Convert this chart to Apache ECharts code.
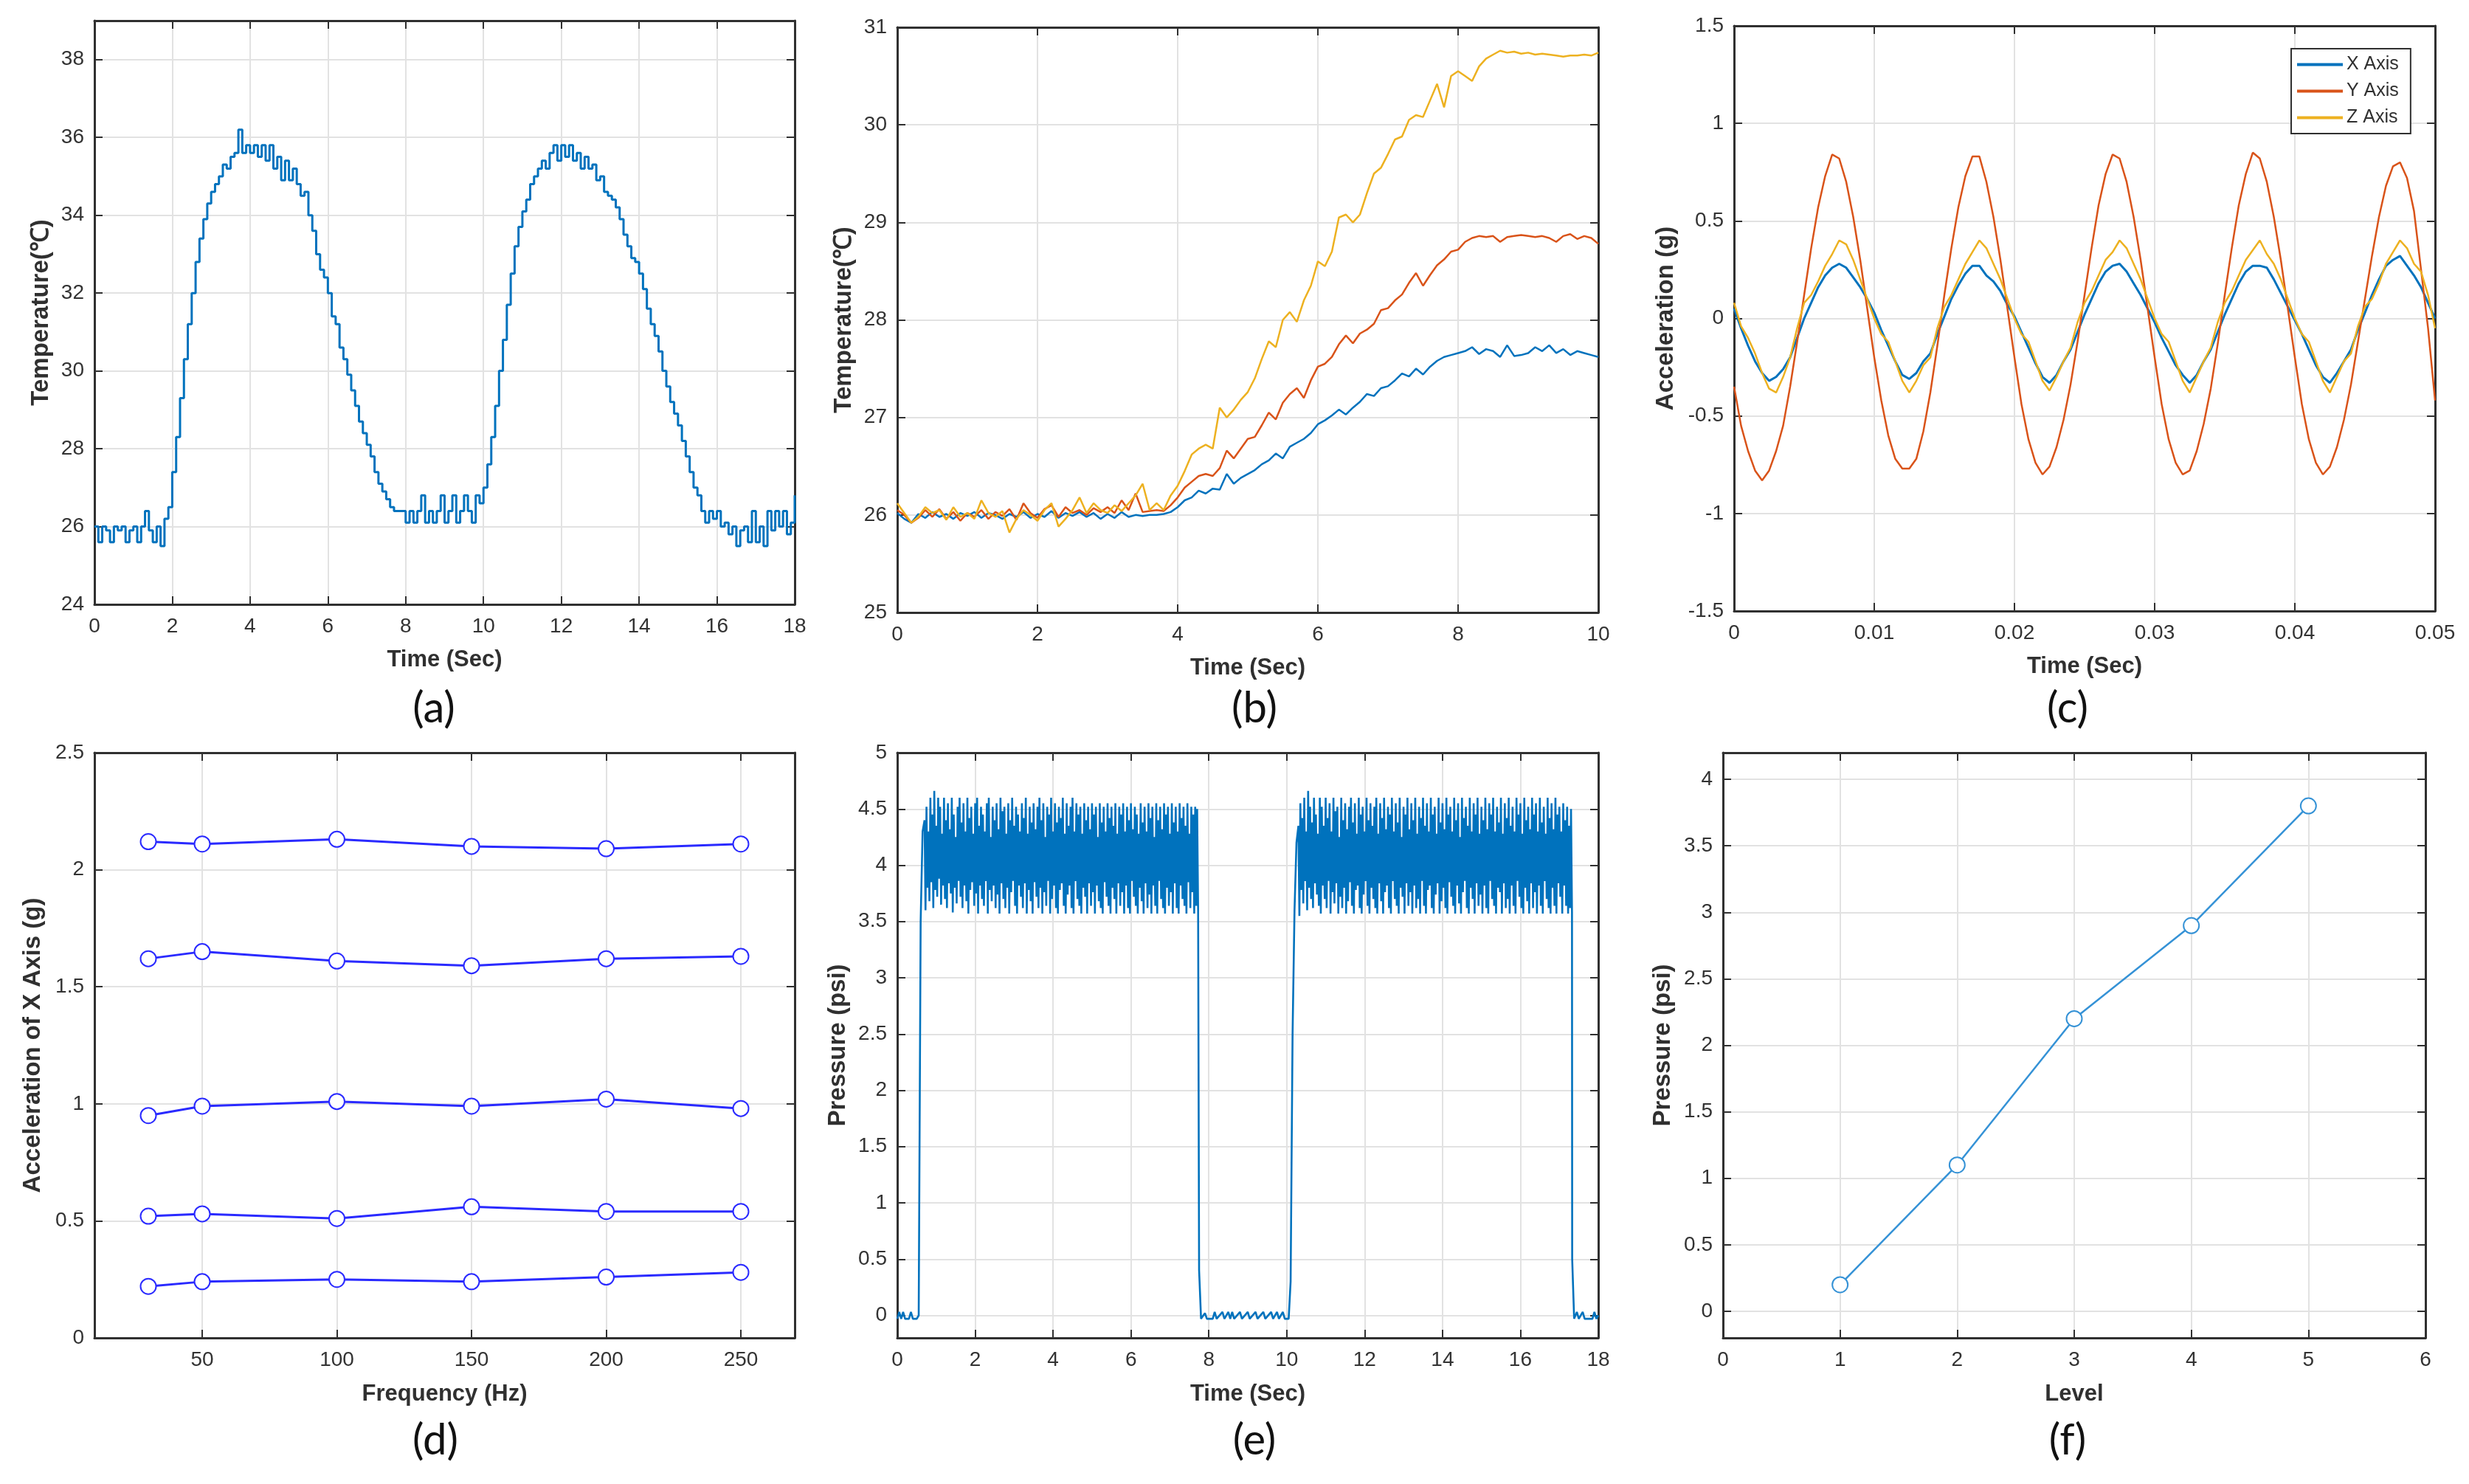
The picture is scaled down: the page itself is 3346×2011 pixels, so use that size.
<!DOCTYPE html>
<html>
<head>
<meta charset="utf-8">
<script src="https://cdn.jsdelivr.net/npm/echarts@6/dist/echarts.min.js"></script>
<style>
  html, body { margin: 0; background: #fff; }
  #chart { width: 3346px; height: 2011px; }
</style>
</head>
<body>
<div id="chart"></div>
<script>
// ---------- (a) temperature, one value every 0.1 s from 0 to 18 s ----------
const tempStep = 0.1;
const tempA = [
  26.0, 25.6, 26.0, 25.9, 25.6, 26.0, 25.9, 26.0, 25.6, 25.9,
  26.0, 25.6, 26.0, 26.4, 25.9, 25.6, 26.0, 25.5, 26.2, 26.5,
  27.4, 28.3, 29.3, 30.3, 31.2, 32.0, 32.8, 33.4, 33.9, 34.3,
  34.6, 34.8, 35.0, 35.3, 35.2, 35.5, 35.6, 36.2, 35.6, 35.8,
  35.6, 35.8, 35.5, 35.8, 35.4, 35.8, 35.2, 35.5, 34.9, 35.4,
  34.9, 35.2, 34.8, 34.5, 34.6, 34.0, 33.6, 33.0, 32.6, 32.4,
  32.0, 31.4, 31.2, 30.6, 30.3, 29.9, 29.5, 29.1, 28.7, 28.4,
  28.1, 27.8, 27.4, 27.1, 26.9, 26.7, 26.5, 26.4, 26.4, 26.4,
  26.1, 26.4, 26.1, 26.4, 26.8, 26.1, 26.4, 26.1, 26.4, 26.8,
  26.1, 26.4, 26.8, 26.1, 26.4, 26.8, 26.4, 26.1, 26.8, 26.6,
  27.0, 27.6, 28.3, 29.1, 30.0, 30.8, 31.7, 32.5, 33.2, 33.7,
  34.1, 34.4, 34.8, 35.0, 35.2, 35.4, 35.2, 35.6, 35.8, 35.4,
  35.8, 35.5, 35.8, 35.4, 35.6, 35.2, 35.5, 35.2, 35.3, 34.9,
  35.0, 34.6, 34.5, 34.4, 34.2, 33.9, 33.5, 33.2, 32.9, 32.8,
  32.5, 32.1, 31.6, 31.2, 30.9, 30.5, 30.0, 29.6, 29.2, 28.9,
  28.6, 28.2, 27.8, 27.4, 27.0, 26.8, 26.4, 26.1, 26.4, 26.2,
  26.4, 26.0, 26.1, 25.8, 26.0, 25.5, 25.9, 26.0, 25.6, 26.4,
  25.6, 26.0, 25.5, 26.4, 25.9, 26.4, 26.0, 26.4, 25.8, 26.1,
  26.8
];

// ---------- (b) three temperature sensors, every 0.1 s from 0 to 10 s ----------
const heatStep = 0.1;
const heatBlue = [
  26.02, 25.96, 25.92, 26.01, 25.97, 26.03, 25.98, 26.01, 25.96, 26.02,
  25.99, 26.03, 25.97, 26.02, 26.00, 25.96, 26.01, 25.98, 26.03, 25.97,
  26.01, 25.98, 26.04, 25.97, 26.02, 25.99, 26.03, 25.98, 26.02, 25.96,
  26.01, 25.97, 26.03, 25.98, 26.00, 25.99, 26.00, 26.00, 26.01, 26.03,
  26.08, 26.15, 26.18, 26.25, 26.22, 26.27, 26.26, 26.42, 26.32, 26.38,
  26.42, 26.46, 26.52, 26.56, 26.63, 26.58, 26.70, 26.74, 26.78, 26.84,
  26.93, 26.97, 27.02, 27.08, 27.03, 27.10, 27.16, 27.24, 27.22, 27.30,
  27.32, 27.38, 27.45, 27.42, 27.50, 27.44, 27.52, 27.58, 27.62, 27.64,
  27.66, 27.68, 27.72, 27.65, 27.70, 27.68, 27.62, 27.74, 27.63, 27.64,
  27.66, 27.72, 27.68, 27.74, 27.66, 27.70, 27.64, 27.68, 27.66, 27.64,
  27.62
];
const heatRed = [
  26.05, 26.00, 25.92, 25.97, 26.05, 25.98, 26.06, 25.96, 26.03, 25.94,
  26.02, 25.98, 26.05, 25.96, 26.03, 25.99, 26.06, 25.95, 26.12, 26.02,
  25.97, 26.06, 26.10, 25.98, 26.08, 26.02, 26.05, 26.00, 26.07, 26.03,
  26.08, 26.02, 26.15, 26.05, 26.22, 26.03, 26.04, 26.05, 26.04, 26.10,
  26.18, 26.28, 26.34, 26.40, 26.42, 26.40, 26.48, 26.66, 26.58, 26.68,
  26.78, 26.80, 26.92, 27.05, 26.98, 27.15, 27.24, 27.30, 27.20, 27.38,
  27.52, 27.55, 27.62, 27.75, 27.84, 27.76, 27.86, 27.90, 27.96, 28.10,
  28.12, 28.20, 28.26, 28.38, 28.48, 28.35, 28.46, 28.56, 28.62, 28.70,
  28.72, 28.80, 28.84, 28.86, 28.85, 28.86, 28.80, 28.85, 28.86, 28.87,
  28.86, 28.85, 28.86, 28.84, 28.80, 28.86, 28.88, 28.83, 28.86, 28.84,
  28.78
];
const heatYellow = [
  26.12, 26.02, 25.92, 25.98, 26.08, 26.02, 26.05, 25.95, 26.08, 25.98,
  26.02, 25.96, 26.15, 26.02, 25.98, 26.04, 25.82, 25.96, 26.05, 26.00,
  25.94, 26.05, 26.12, 25.88, 25.96, 26.05, 26.18, 26.02, 26.12, 26.05,
  26.02, 26.10, 26.04, 26.12, 26.20, 26.32, 26.05, 26.12, 26.05, 26.20,
  26.30, 26.45, 26.62, 26.68, 26.72, 26.68, 27.10, 27.00, 27.08, 27.18,
  27.26, 27.40, 27.60, 27.78, 27.72, 28.00, 28.08, 27.98, 28.20, 28.35,
  28.60, 28.55, 28.70, 29.05, 29.08, 29.00, 29.08, 29.30, 29.50, 29.56,
  29.70, 29.85, 29.88, 30.05, 30.10, 30.08, 30.25, 30.42, 30.18, 30.50,
  30.55, 30.50, 30.45, 30.60, 30.68, 30.72, 30.76, 30.74, 30.75, 30.73,
  30.74, 30.72, 30.73, 30.72, 30.71, 30.70, 30.71, 30.71, 30.72, 30.71,
  30.74
];

// ---------- (c) acceleration, every 0.0005 s from 0 to 0.05 s ----------
const accStep = 0.0005;
const accNames = ["X Axis", "Y Axis", "Z Axis"];
const accX = [
  0.05, -0.05, -0.14, -0.22, -0.28, -0.32, -0.30, -0.26, -0.20, -0.10,
  0.00, 0.08, 0.16, 0.22, 0.26, 0.28, 0.26, 0.21, 0.16, 0.10,
  0.03, -0.06, -0.14, -0.22, -0.29, -0.31, -0.28, -0.22, -0.18, -0.08,
  0.01, 0.10, 0.17, 0.23, 0.27, 0.27, 0.22, 0.19, 0.14, 0.07,
  0.01, -0.07, -0.15, -0.23, -0.30, -0.33, -0.29, -0.22, -0.16, -0.07,
  0.02, 0.10, 0.18, 0.24, 0.27, 0.28, 0.24, 0.18, 0.12, 0.05,
  -0.02, -0.10, -0.17, -0.24, -0.29, -0.33, -0.29, -0.22, -0.16, -0.07,
  0.02, 0.10, 0.18, 0.24, 0.27, 0.27, 0.26, 0.20, 0.13, 0.06,
  -0.01, -0.08, -0.16, -0.24, -0.30, -0.33, -0.28, -0.22, -0.16, -0.06,
  0.03, 0.12, 0.20, 0.27, 0.30, 0.32, 0.27, 0.22, 0.16, 0.08,
  0.00
];
const accY = [
  -0.35, -0.55, -0.68, -0.78, -0.83, -0.78, -0.68, -0.55, -0.35, -0.12,
  0.12, 0.36, 0.57, 0.73, 0.84, 0.82, 0.70, 0.52, 0.30, 0.05,
  -0.20, -0.42, -0.60, -0.72, -0.77, -0.77, -0.72, -0.58, -0.38, -0.14,
  0.12, 0.36, 0.57, 0.73, 0.83, 0.83, 0.70, 0.52, 0.30, 0.05,
  -0.20, -0.44, -0.62, -0.74, -0.80, -0.76, -0.66, -0.52, -0.34, -0.12,
  0.12, 0.36, 0.58, 0.74, 0.84, 0.82, 0.70, 0.52, 0.30, 0.05,
  -0.20, -0.44, -0.62, -0.74, -0.80, -0.78, -0.68, -0.54, -0.36, -0.13,
  0.12, 0.36, 0.58, 0.74, 0.85, 0.82, 0.70, 0.52, 0.30, 0.05,
  -0.20, -0.44, -0.62, -0.74, -0.80, -0.76, -0.66, -0.52, -0.34, -0.12,
  0.10, 0.32, 0.52, 0.68, 0.78, 0.80, 0.72, 0.55, 0.25, -0.05,
  -0.42
];
const accZ = [
  0.08, -0.04, -0.10, -0.18, -0.28, -0.36, -0.38, -0.30, -0.20, -0.05,
  0.08, 0.12, 0.19, 0.27, 0.33, 0.40, 0.38, 0.30, 0.20, 0.10,
  0.00, -0.08, -0.12, -0.22, -0.32, -0.38, -0.32, -0.24, -0.20, -0.05,
  0.06, 0.12, 0.20, 0.28, 0.34, 0.40, 0.36, 0.28, 0.20, 0.10,
  0.00, -0.08, -0.12, -0.22, -0.32, -0.37, -0.30, -0.22, -0.15, -0.02,
  0.08, 0.14, 0.22, 0.30, 0.34, 0.40, 0.36, 0.28, 0.20, 0.10,
  0.00, -0.08, -0.12, -0.22, -0.32, -0.38, -0.30, -0.22, -0.15, -0.02,
  0.08, 0.14, 0.22, 0.30, 0.35, 0.40, 0.33, 0.28, 0.20, 0.10,
  0.00, -0.08, -0.12, -0.22, -0.32, -0.38, -0.30, -0.22, -0.18, -0.04,
  0.06, 0.10, 0.18, 0.28, 0.34, 0.40, 0.36, 0.28, 0.24, 0.12,
  -0.05
];

// ---------- (d) acceleration of X axis vs frequency, five excitation levels ----------
const freqHz = [30, 50, 100, 150, 200, 250];
const accLevels = [
  [2.12, 2.11, 2.13, 2.10, 2.09, 2.11],
  [1.62, 1.65, 1.61, 1.59, 1.62, 1.63],
  [0.95, 0.99, 1.01, 0.99, 1.02, 0.98],
  [0.52, 0.53, 0.51, 0.56, 0.54, 0.54],
  [0.22, 0.24, 0.25, 0.24, 0.26, 0.28]
];

// ---------- (e) pressure: off segments as [t, psi], on plateaus as peak/trough every 0.05 s ----------
const pressStep = 0.05;
const pressOffStart = [[0, -0.03], [0.05, 0.03], [0.1, -0.03], [0.15, 0.03], [0.2, -0.03], [0.3, -0.03],
  [0.35, 0.03], [0.4, -0.03], [0.5, -0.03], [0.55, 0.0], [0.6, 3.5], [0.65, 4.3]];
const pressOn1Start = 0.7;
const pressOn1High = [
  4.40, 4.52, 4.30, 4.60, 4.45, 4.66, 4.35, 4.60, 4.52, 4.28,
  4.60, 4.40, 4.55, 4.32, 4.60, 4.45, 4.25, 4.52, 4.60, 4.38,
  4.55, 4.30, 4.60, 4.42, 4.52, 4.28, 4.55, 4.60, 4.35, 4.52,
  4.45, 4.30, 4.55, 4.60, 4.25, 4.52, 4.40, 4.55, 4.32, 4.60,
  4.48, 4.52, 4.28, 4.55, 4.40, 4.60, 4.35, 4.52, 4.45, 4.30,
  4.55, 4.42, 4.60, 4.28, 4.52, 4.38, 4.55, 4.32, 4.52, 4.60,
  4.40, 4.55, 4.25, 4.52, 4.45, 4.60, 4.30, 4.55, 4.38, 4.52,
  4.42, 4.60, 4.28, 4.55, 4.35, 4.52, 4.60, 4.30, 4.55, 4.45,
  4.52, 4.28, 4.55, 4.40, 4.52, 4.32, 4.55, 4.45, 4.52, 4.25,
  4.55, 4.38, 4.52, 4.30, 4.55, 4.42, 4.52, 4.35, 4.55, 4.28,
  4.52, 4.45, 4.55, 4.30, 4.52, 4.40, 4.55, 4.32, 4.52, 4.45,
  4.28, 4.55, 4.38, 4.52, 4.30, 4.55, 4.42, 4.52, 4.25, 4.55,
  4.40, 4.52, 4.32, 4.55, 4.45, 4.52, 4.28, 4.55, 4.38, 4.52,
  4.30, 4.55, 4.42, 4.52, 4.35, 4.55, 4.28, 4.52, 4.45, 4.52,
  4.50
];
const pressOn1Low = [
  3.60, 3.80, 3.68, 3.85, 3.62, 3.78, 3.72, 3.88, 3.65, 3.82,
  3.70, 3.62, 3.84, 3.75, 3.58, 3.80, 3.66, 3.86, 3.72, 3.62,
  3.82, 3.68, 3.57, 3.78, 3.85, 3.64, 3.75, 3.57, 3.82, 3.70,
  3.64, 3.86, 3.57, 3.78, 3.68, 3.82, 3.62, 3.74, 3.57, 3.84,
  3.70, 3.62, 3.80, 3.57, 3.76, 3.86, 3.64, 3.57, 3.82, 3.72,
  3.62, 3.84, 3.57, 3.78, 3.68, 3.57, 3.85, 3.72, 3.62, 3.80,
  3.57, 3.76, 3.64, 3.86, 3.57, 3.70, 3.82, 3.62, 3.57, 3.78,
  3.84, 3.64, 3.57, 3.74, 3.82, 3.62, 3.57, 3.86, 3.70, 3.64,
  3.57, 3.80, 3.72, 3.57, 3.84, 3.64, 3.76, 3.57, 3.82, 3.68,
  3.62, 3.57, 3.85, 3.72, 3.64, 3.57, 3.80, 3.70, 3.57, 3.84,
  3.64, 3.76, 3.57, 3.82, 3.62, 3.57, 3.86, 3.72, 3.64, 3.57,
  3.80, 3.68, 3.57, 3.84, 3.62, 3.74, 3.57, 3.82, 3.64, 3.57,
  3.86, 3.70, 3.62, 3.57, 3.80, 3.64, 3.76, 3.57, 3.84, 3.62,
  3.57, 3.82, 3.70, 3.64, 3.57, 3.85, 3.62, 3.76, 3.57, 3.64,
  3.60
];
const pressOffMiddle = [[7.75, 0.4], [7.8, -0.03], [7.9, 0.02], [7.95, -0.03], [8.1, -0.03], [8.15, 0.03],
  [8.2, -0.03], [8.35, 0.03], [8.4, -0.03], [8.5, 0.03], [8.55, -0.03], [8.6, 0.03], [8.65, -0.03],
  [8.8, 0.03], [8.85, -0.03], [9.0, 0.03], [9.05, -0.03], [9.2, 0.03], [9.25, -0.03], [9.4, 0.03],
  [9.45, -0.03], [9.6, 0.03], [9.65, -0.03], [9.75, 0.03], [9.8, -0.03], [9.9, 0.03], [9.95, -0.03],
  [10.05, -0.03], [10.1, 0.3], [10.15, 2.5], [10.2, 3.6], [10.25, 4.2]];
const pressOn2Start = 10.3;
const pressOn2High = [
  4.35, 4.55, 4.42, 4.60, 4.30, 4.66, 4.52, 4.38, 4.60, 4.45,
  4.28, 4.60, 4.52, 4.35, 4.60, 4.42, 4.55, 4.30, 4.60, 4.48,
  4.52, 4.25, 4.60, 4.40, 4.55, 4.32, 4.52, 4.60, 4.38, 4.55,
  4.28, 4.60, 4.45, 4.52, 4.30, 4.60, 4.40, 4.55, 4.35, 4.52,
  4.60, 4.28, 4.55, 4.42, 4.60, 4.32, 4.52, 4.45, 4.60, 4.30,
  4.55, 4.38, 4.60, 4.25, 4.52, 4.45, 4.60, 4.32, 4.55, 4.40,
  4.60, 4.28, 4.52, 4.42, 4.60, 4.35, 4.55, 4.30, 4.60, 4.45,
  4.52, 4.28, 4.60, 4.38, 4.55, 4.32, 4.60, 4.45, 4.52, 4.30,
  4.60, 4.40, 4.55, 4.25, 4.60, 4.42, 4.52, 4.35, 4.60, 4.30,
  4.55, 4.45, 4.60, 4.28, 4.52, 4.40, 4.60, 4.32, 4.55, 4.45,
  4.60, 4.30, 4.52, 4.38, 4.60, 4.28, 4.55, 4.42, 4.60, 4.35,
  4.52, 4.30, 4.60, 4.45, 4.55, 4.28, 4.60, 4.40, 4.52, 4.32,
  4.60, 4.45, 4.55, 4.30, 4.60, 4.38, 4.52, 4.28, 4.60, 4.42,
  4.55, 4.32, 4.60, 4.45, 4.52, 4.30, 4.55, 4.40, 4.52, 4.35,
  4.50
];
const pressOn2Low = [
  3.55, 3.78, 3.66, 3.86, 3.60, 3.80, 3.70, 3.62, 3.84, 3.74,
  3.64, 3.57, 3.82, 3.70, 3.62, 3.86, 3.57, 3.76, 3.66, 3.84,
  3.57, 3.72, 3.62, 3.80, 3.57, 3.68, 3.85, 3.64, 3.57, 3.78,
  3.82, 3.62, 3.57, 3.74, 3.86, 3.64, 3.57, 3.80, 3.70, 3.62,
  3.57, 3.84, 3.68, 3.57, 3.76, 3.82, 3.62, 3.57, 3.86, 3.70,
  3.64, 3.57, 3.80, 3.72, 3.57, 3.84, 3.64, 3.76, 3.57, 3.82,
  3.62, 3.70, 3.57, 3.86, 3.64, 3.57, 3.78, 3.82, 3.62, 3.57,
  3.74, 3.84, 3.57, 3.68, 3.80, 3.62, 3.57, 3.85, 3.72, 3.64,
  3.57, 3.82, 3.66, 3.57, 3.76, 3.86, 3.62, 3.57, 3.80, 3.70,
  3.57, 3.84, 3.64, 3.74, 3.57, 3.82, 3.62, 3.57, 3.86, 3.70,
  3.64, 3.57, 3.80, 3.76, 3.57, 3.84, 3.62, 3.70, 3.57, 3.82,
  3.64, 3.57, 3.86, 3.72, 3.62, 3.57, 3.80, 3.68, 3.57, 3.84,
  3.62, 3.76, 3.57, 3.82, 3.64, 3.57, 3.86, 3.70, 3.62, 3.57,
  3.80, 3.64, 3.57, 3.84, 3.72, 3.57, 3.82, 3.64, 3.57, 3.62,
  3.58
];
const pressOffEnd = [[17.33, 0.5], [17.38, -0.03], [17.45, 0.03], [17.5, -0.03], [17.6, 0.03],
  [17.65, -0.03], [17.85, -0.03], [17.9, 0.03], [17.95, -0.03], [18, 0.0]];

// ---------- (f) pressure vs level ----------
const levels = [1, 2, 3, 4, 5];
const levelPsi = [0.2, 1.1, 2.2, 2.9, 3.8];

// ---------- tick labels ----------
const ticks0to18 = [0, 2, 4, 6, 8, 10, 12, 14, 16, 18];
const ticksTempA = [24, 26, 28, 30, 32, 34, 36, 38];
const ticks0to10 = [0, 2, 4, 6, 8, 10];
const ticksTempB = [25, 26, 27, 28, 29, 30, 31];
const ticksTimeC = [0, 0.01, 0.02, 0.03, 0.04, 0.05];
const ticksAccC = [-1.5, -1, -0.5, 0, 0.5, 1, 1.5];
const ticksFreq = [50, 100, 150, 200, 250];
const ticksAccD = [0, 0.5, 1, 1.5, 2, 2.5];
const ticksPsiE = [0, 0.5, 1, 1.5, 2, 2.5, 3, 3.5, 4, 4.5, 5];
const ticksLevel = [0, 1, 2, 3, 4, 5, 6];
const ticksPsiF = [0, 0.5, 1, 1.5, 2, 2.5, 3, 3.5, 4];

const BLUE = "#0072BD", RED = "#D95319", YELLOW = "#EDB120";
const INK = "#303030";
const FONT = "Liberation Sans, Arial, sans-serif";

// 采样序列 -> [t, v]
const sampled = (vals, step) => vals.map((v, i) => [+(i * step).toFixed(5), v]);
// 平台段：每个周期一个峰值和一个谷值
function plateau(t0, highs, lows) {
  const pts = [];
  highs.forEach((h, i) => {
    const t = t0 + i * pressStep;
    pts.push([+t.toFixed(3), h], [+(t + pressStep / 2).toFixed(3), lows[i]]);
  });
  return pts;
}

const panels = [
  { box: [128, 28, 949, 791], x: { min: 0, max: 18, ticks: ticks0to18, name: "Time (Sec)", gap: 60 },
    y: { min: 24, max: 39, ticks: ticksTempA, name: "Temperature(℃)", gap: 56 }, tag: "(a)", tagAt: [588, 960] },
  { box: [1216, 37, 950, 793], x: { min: 0, max: 10, ticks: ticks0to10, name: "Time (Sec)", gap: 60 },
    y: { min: 25, max: 31, ticks: ticksTempB, name: "Temperature(℃)", gap: 56 }, tag: "(b)", tagAt: [1700, 960] },
  { box: [2350, 35, 950, 793], x: { min: 0, max: 0.05, ticks: ticksTimeC, name: "Time (Sec)", gap: 60 },
    y: { min: -1.5, max: 1.5, ticks: ticksAccC, name: "Acceleration (g)", gap: 76 }, tag: "(c)", tagAt: [2802, 960] },
  { box: [128, 1020, 949, 793], x: { min: 10, max: 270, ticks: ticksFreq, name: "Frequency (Hz)", gap: 61 },
    y: { min: 0, max: 2.5, ticks: ticksAccD, name: "Acceleration of X Axis (g)", gap: 67 }, tag: "(d)", tagAt: [590, 1952] },
  { box: [1216, 1020, 950, 793], x: { min: 0, max: 18, ticks: ticks0to18, name: "Time (Sec)", gap: 61 },
    y: { min: -0.2, max: 5, ticks: ticksPsiE, name: "Pressure (psi)", gap: 64 }, tag: "(e)", tagAt: [1700, 1952] },
  { box: [2335, 1020, 952, 793], x: { min: 0, max: 6, ticks: ticksLevel, name: "Level", gap: 61 },
    y: { min: -0.2, max: 4.2, ticks: ticksPsiF, name: "Pressure (psi)", gap: 65 }, tag: "(f)", tagAt: [2802, 1952] }
];

const grids = [], xAxes = [], yAxes = [], graphics = [];
const axisLine = { show: true, onZero: false, lineStyle: { color: INK, width: 3 } };
const tickStyle = (vals) => ({ show: true, inside: true, length: 11, customValues: vals, lineStyle: { color: INK, width: 2 } });
const labelStyle = (vals, margin) => ({ customValues: vals, margin, fontFamily: FONT, fontSize: 28, color: "#333", formatter: (v) => String(v) });
const nameStyleX = { fontFamily: FONT, fontSize: 31, fontWeight: "bold", color: INK };
const nameStyleY = { fontFamily: FONT, fontSize: 33, fontWeight: "bold", color: INK };
const gridLine = { show: true, lineStyle: { color: "#e2e2e2", width: 2 } };

panels.forEach((p, i) => {
  const [left, top, width, height] = p.box;
  grids.push({ left, top, width, height, outerBoundsMode: "none", containLabel: false });
  const common = (a) => ({ type: "value", gridIndex: i, min: a.min, max: a.max, axisLine, axisTick: tickStyle(a.ticks) });
  xAxes.push(
    Object.assign(common(p.x), { position: "bottom", name: p.x.name, nameLocation: "middle", nameGap: p.x.gap,
      nameMoveOverlap: false, nameTextStyle: nameStyleX, axisLabel: labelStyle(p.x.ticks, 16), splitLine: gridLine }),
    Object.assign(common(p.x), { position: "top", axisLabel: { show: false }, splitLine: { show: false } })
  );
  yAxes.push(
    Object.assign(common(p.y), { position: "left", name: p.y.name, nameLocation: "middle", nameGap: p.y.gap,
      nameMoveOverlap: false, nameTextStyle: nameStyleY, axisLabel: labelStyle(p.y.ticks, 14), splitLine: gridLine }),
    Object.assign(common(p.y), { position: "right", axisLabel: { show: false }, splitLine: { show: false } })
  );
  graphics.push({ type: "text", x: p.tagAt[0], y: p.tagAt[1],
    style: { text: p.tag, font: "58px Lato, 'Open Sans', sans-serif", fontSize: 58, fontFamily: "Lato", fill: "#111",
      align: "center", verticalAlign: "middle", textAlign: "center", textVerticalAlign: "middle" } });
});

function line(panel, name, data, color, width, extra) {
  return Object.assign({
    type: "line", name, xAxisIndex: panel * 2, yAxisIndex: panel * 2, data,
    symbol: "none", animation: false, silent: true, clip: true,
    lineStyle: { color, width }, itemStyle: { color }
  }, extra || {});
}

const series = [
  line(0, "temp", sampled(tempA, tempStep), BLUE, 3, { step: "end" }),
  line(1, "b-blue", sampled(heatBlue, heatStep), BLUE, 2.5),
  line(1, "b-red", sampled(heatRed, heatStep), RED, 2.5),
  line(1, "b-yellow", sampled(heatYellow, heatStep), YELLOW, 2.5),
  line(2, accNames[0], sampled(accX, accStep), BLUE, 3),
  line(2, accNames[1], sampled(accY, accStep), RED, 2.5),
  line(2, accNames[2], sampled(accZ, accStep), YELLOW, 2.5),
  ...accLevels.map((vals, k) => line(3, "level" + k, freqHz.map((f, j) => [f, vals[j]]), "#2a2aff", 3,
    { symbol: "emptyCircle", symbolSize: 21, itemStyle: { color: "#2a2aff", borderWidth: 3.5 } })),
  line(4, "pressure", [].concat(pressOffStart, plateau(pressOn1Start, pressOn1High, pressOn1Low), pressOffMiddle,
    plateau(pressOn2Start, pressOn2High, pressOn2Low), pressOffEnd), BLUE, 2.6),
  line(5, "psi", levels.map((l, j) => [l, levelPsi[j]]), "#3592d6", 2.5,
    { symbol: "emptyCircle", symbolSize: 21, itemStyle: { color: "#3592d6", borderWidth: 3 } })
];

const chart = echarts.init(document.getElementById("chart"), null, { renderer: "canvas" });
chart.setOption({
  backgroundColor: "#fff",
  animation: false,
  grid: grids,
  xAxis: xAxes,
  yAxis: yAxes,
  legend: {
    data: accNames, orient: "vertical", left: 3105, top: 66,
    padding: [9, 16, 9, 8], itemGap: 11, itemWidth: 62, itemHeight: 4, icon: "rect",
    borderColor: INK, borderWidth: 2, backgroundColor: "#fff", selectedMode: false,
    textStyle: { fontFamily: FONT, fontSize: 25, color: INK }
  },
  graphic: graphics,
  series
});
</script>
</body>
</html>
